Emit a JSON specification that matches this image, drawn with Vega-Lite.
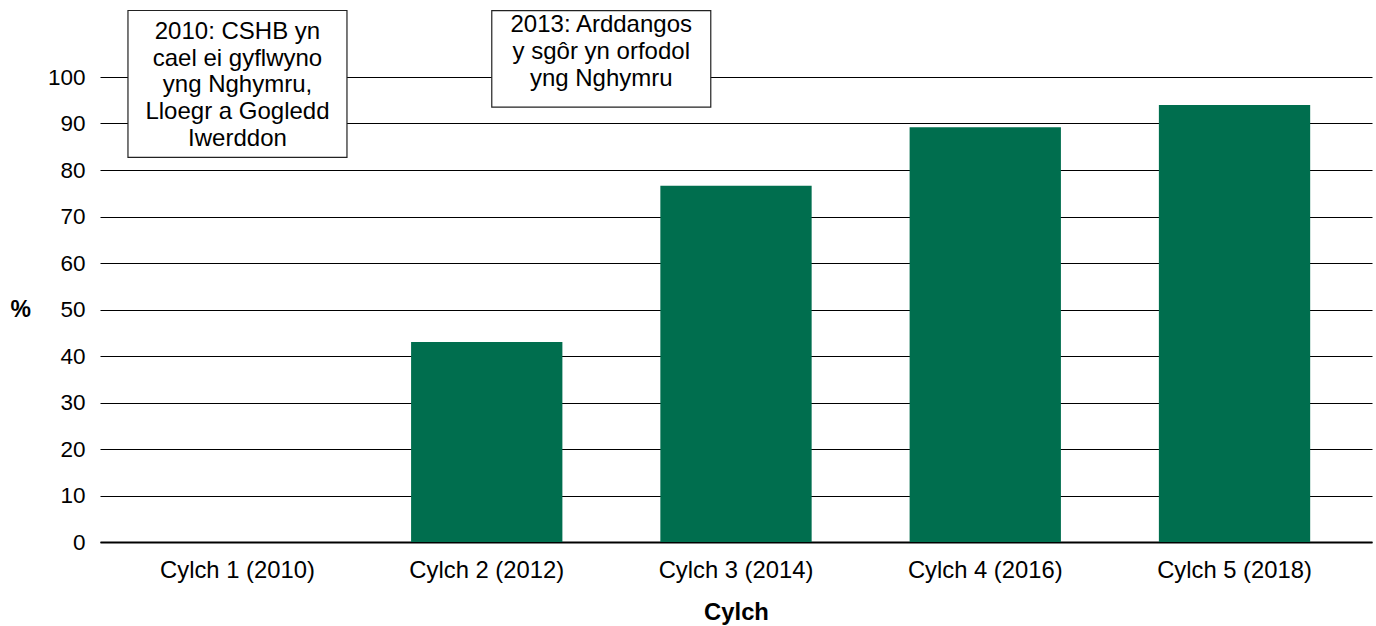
{
  "$schema": "https://vega.github.io/schema/vega-lite/v6.json",
  "width": 1272,
  "height": 465,
  "autosize": "none",
  "padding": {"left": 100, "top": 77, "right": 4, "bottom": 84},
  "background": "white",
  "config": {
    "font": "Liberation Sans",
    "view": {"stroke": null}
  },
  "datasets": {
    "bars": [
      {"cylch": "Cylch 1 (2010)", "pct": 0},
      {"cylch": "Cylch 2 (2012)", "pct": 43.0},
      {"cylch": "Cylch 3 (2014)", "pct": 76.6},
      {"cylch": "Cylch 4 (2016)", "pct": 89.2},
      {"cylch": "Cylch 5 (2018)", "pct": 94.0}
    ],
    "note1": [
      {"cylch": "Cylch 1 (2010)", "mid": 98.5, "first": 109.7, "lines": ["2010: CSHB yn", "cael ei gyflwyno", "yng Nghymru,", "Lloegr a Gogledd", "Iwerddon"]}
    ],
    "note2": [
      {"cylch": "Cylch 2 (2012)", "mid": 103.9, "first": 111.1, "lines": ["2013: Arddangos", "y sgôr yn orfodol", "yng Nghymru"]}
    ]
  },
  "layer": [
    {
      "data": {"name": "bars"},
      "mark": {"type": "bar", "color": "#006e4e"},
      "encoding": {
        "x": {
          "field": "cylch", "type": "nominal", "sort": null,
          "scale": {"paddingInner": 0.393, "paddingOuter": 0.248},
          "axis": {
            "title": "Cylch", "labelAngle": 0, "ticks": false,
            "domainColor": "#000", "domainWidth": 2,
            "labelFontSize": 23.8, "labelColor": "#000", "labelPadding": 16,
            "titleFontSize": 23.8, "titleFontWeight": "bold", "titleColor": "#000",
            "titleY": 58, "titleBaseline": "top"
          }
        },
        "y": {
          "field": "pct", "type": "quantitative",
          "scale": {"domain": [0, 100], "nice": false},
          "axis": {
            "title": "%", "values": [0, 10, 20, 30, 40, 50, 60, 70, 80, 90, 100],
            "domain": false, "ticks": false, "grid": true,
            "gridColor": "#000", "gridWidth": 1,
            "labelFontSize": 22.5, "labelColor": "#000", "labelPadding": 15,
            "titleAngle": 0, "titleFontSize": 23, "titleFontWeight": "bold", "titleColor": "#000",
            "titleX": -90, "titleY": 232, "titleAlign": "left", "titleBaseline": "middle"
          }
        }
      }
    },
    {
      "data": {"name": "note1"},
      "mark": {"type": "point", "shape": "M-1,-0.671H1V0.671H-1Z", "size": 47961, "filled": true, "fill": "white", "stroke": "#222", "strokeWidth": 1.2, "opacity": 1},
      "encoding": {
        "x": {"field": "cylch", "type": "nominal", "sort": null},
        "y": {"field": "mid", "type": "quantitative"}
      }
    },
    {
      "data": {"name": "note1"},
      "mark": {"type": "text", "fontSize": 24, "lineHeight": 26.8, "baseline": "middle", "align": "center", "color": "#000"},
      "encoding": {
        "x": {"field": "cylch", "type": "nominal", "sort": null},
        "y": {"field": "first", "type": "quantitative"},
        "text": {"field": "lines"}
      }
    },
    {
      "data": {"name": "note2"},
      "mark": {"type": "point", "shape": "M-1,-0.441H1V0.441H-1Z", "size": 47961, "filled": true, "fill": "white", "stroke": "#222", "strokeWidth": 1.2, "opacity": 1},
      "encoding": {
        "x": {"field": "cylch", "type": "nominal", "sort": null, "bandPosition": 1.257},
        "y": {"field": "mid", "type": "quantitative"}
      }
    },
    {
      "data": {"name": "note2"},
      "mark": {"type": "text", "fontSize": 24, "lineHeight": 26.8, "baseline": "middle", "align": "center", "color": "#000"},
      "encoding": {
        "x": {"field": "cylch", "type": "nominal", "sort": null, "bandPosition": 1.257},
        "y": {"field": "first", "type": "quantitative"},
        "text": {"field": "lines"}
      }
    }
  ]
}
